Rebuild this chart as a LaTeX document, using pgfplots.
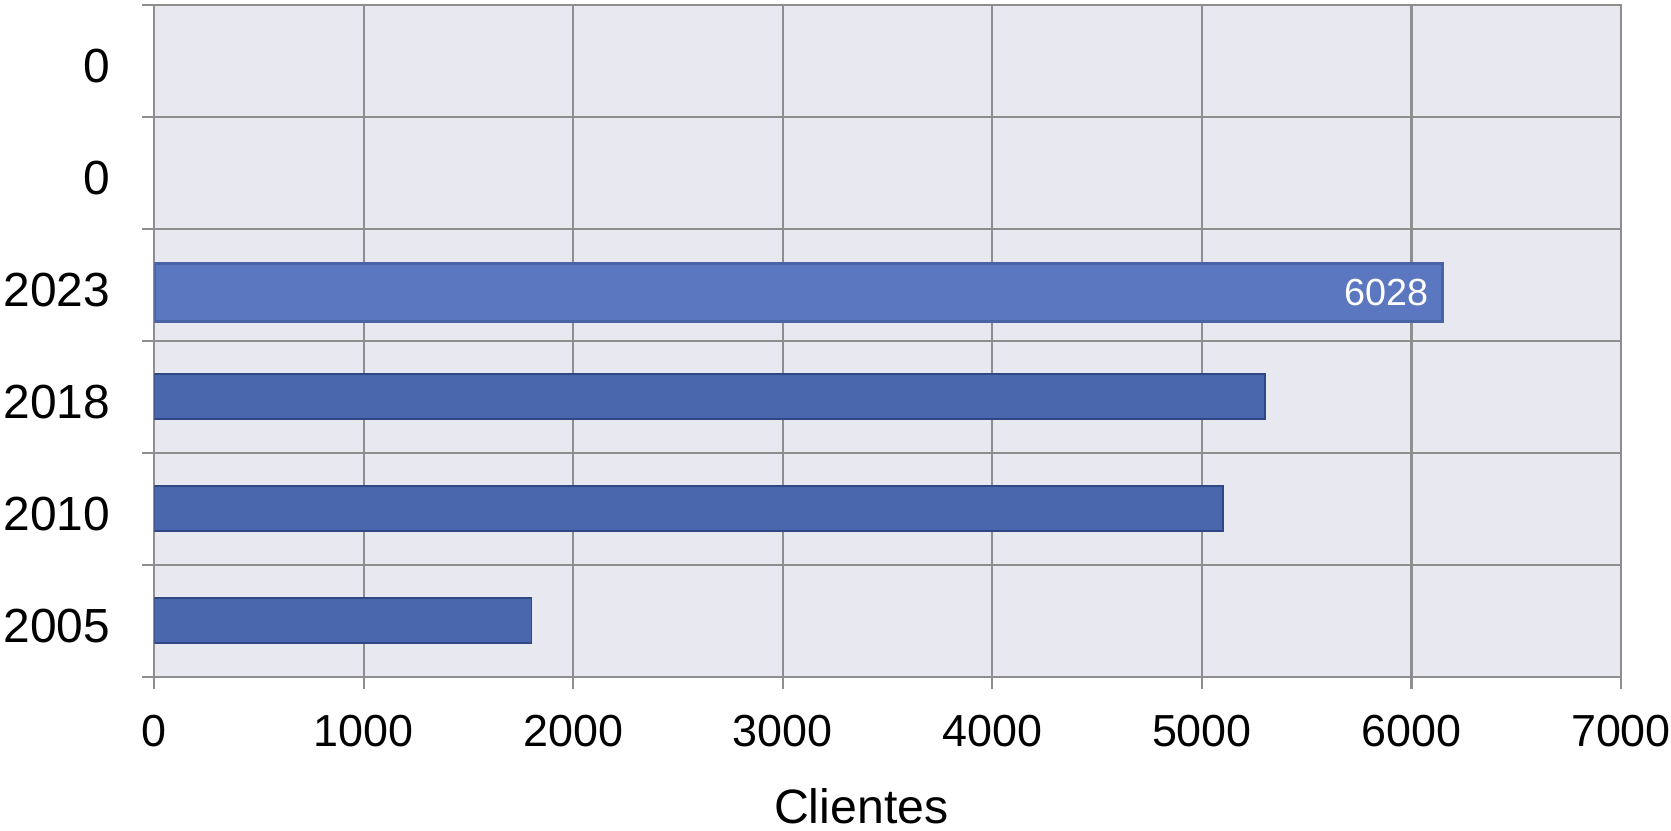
\documentclass[border=0pt]{standalone}
\usepackage{pgfplots}
\pgfplotsset{compat=1.18}
\usepackage{fontspec}
\setmainfont{Liberation Sans}

\definecolor{plotbg}{HTML}{E8E8F1}
\definecolor{gridc}{HTML}{8E8E8E}
\definecolor{barfill}{HTML}{4A66AC}
\definecolor{barline}{HTML}{2F4782}
\definecolor{hifill}{HTML}{5A77BF}
\definecolor{hiline}{HTML}{4B62A4}

\begin{document}
\begin{tikzpicture}
\begin{axis}[
  name=ax,
  scale only axis,
  width=137.8mm, height=63.1mm,
  xbar,
  xmin=0, xmax=7000,
  ymin=-0.5, ymax=5.5,
  xtick={0,1000,...,7000},
  ytick={0,...,5},
  yticklabels={2005,2010,2018,2023,0,0},
  minor ytick={-0.5,0.5,...,5.5},
  xmajorgrids=true,
  yminorgrids=true,
  grid style={gridc, line width=0.55pt},
  minor grid style={gridc, line width=0.55pt},
  axis line style={gridc, line width=0.55pt},
  tick style={gridc, line width=0.55pt},
  major y tick style={draw=none},
  tick align=outside,
  major tick length=1.2mm,
  minor tick length=1.2mm,
  xtick pos=bottom,
  ytick pos=left,
  axis background/.style={fill=plotbg},
  /pgf/number format/assume math mode=true,
  /pgf/number format/1000 sep={},
  yticklabel style={font=\fontsize{12.8}{15}\selectfont,
    xshift=-1.7mm, yshift=-0.5mm},
  xticklabel style={font=\fontsize{12}{14}\selectfont, yshift=-1.2mm},
  xlabel={Clientes},
  xlabel style={at={(axis description cs:0.482,0)}, anchor=base,
    yshift=-13.8mm, font=\fontsize{12.9}{15}\selectfont},
]
\addplot[fill=barfill, draw=barline, line width=0.5pt, bar width=4.2mm,
  bar shift=0pt]
  coordinates {(1800,0) (5100,1) (5300,2)};
\addplot[fill=hifill, draw=hiline, line width=0.8pt, bar width=5.5mm,
  bar shift=-0.7mm,
  point meta=explicit symbolic,
  nodes near coords,
  every node near coord/.append style={anchor=east, xshift=0mm,
    text=white, font=\fontsize{10.1}{12}\selectfont}]
  coordinates {(6150,3) [6028]};
\end{axis}
\pgfresetboundingbox
\path ([xshift=-14.5mm,yshift=-14.5mm]ax.south west)
  rectangle ([xshift=4.7mm,yshift=0.47mm]ax.north east);
\end{tikzpicture}
\end{document}
